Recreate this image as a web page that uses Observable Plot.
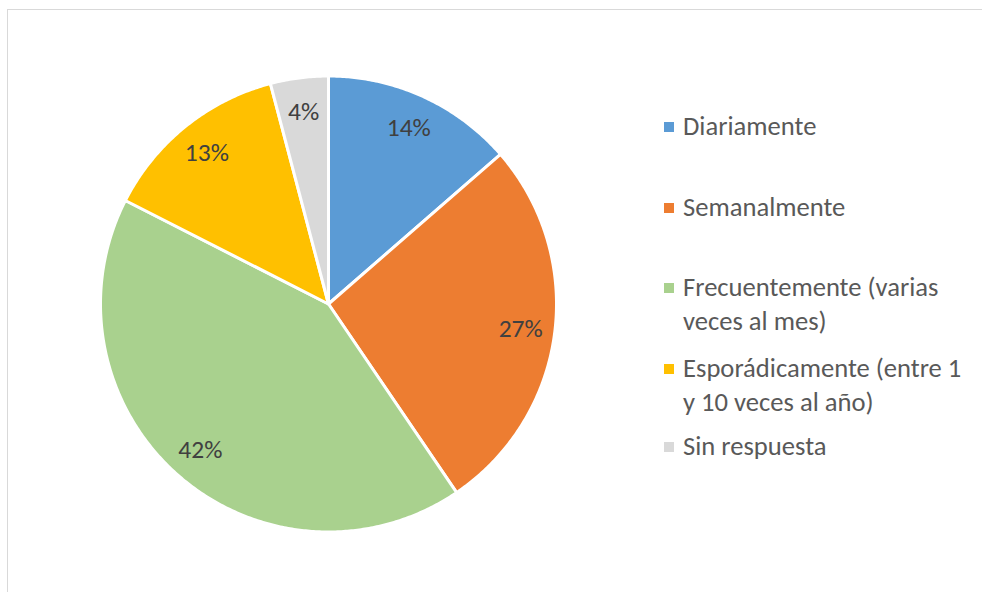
<!DOCTYPE html>
<html>
<head>
<meta charset="utf-8">
<script src="https://cdn.jsdelivr.net/npm/d3@7"></script>
<script src="https://cdn.jsdelivr.net/npm/@observablehq/plot@0.6"></script>
<style>
  html, body { margin: 0; padding: 0; background: #fff; }
  body { width: 982px; height: 592px; position: relative; overflow: hidden;
         font-family: Carlito, Lato, sans-serif; }
  #frame { position: absolute; left: 7px; top: 9px; width: 990px; height: 600px;
           border: 1.5px solid #d9d9d9; box-sizing: border-box; }
  #chart { position: absolute; left: 0; top: 0; }
  #legend { position: absolute; left: 664px; top: 0; color: #595959; font-size: 26.6px; }
  .item { position: absolute; left: 0; width: 318px; line-height: 33.5px; }
  .sw { position: absolute; left: 0; width: 10px; height: 10px; }
  .lab { position: absolute; left: 19px; white-space: nowrap; }
</style>
</head>
<body>
<div id="frame"></div>
<div id="chart"></div>
<div id="legend"></div>
<script>
const categories = ["Diariamente", "Semanalmente", "Frecuentemente (varias veces al mes)", "Esporádicamente (entre 1 y 10 veces al año)", "Sin respuesta"];
const legendLines = [["Diariamente"], ["Semanalmente"], ["Frecuentemente (varias", "veces al mes)"], ["Esporádicamente (entre 1", "y 10 veces al año)"], ["Sin respuesta"]];
const values = [13.6, 26.9, 42.0, 13.4, 4.1];
const percentLabels = ["14%", "27%", "42%", "13%", "4%"];
const colors = ["#5B9BD5", "#ED7D31", "#A9D18E", "#FFC000", "#D9D9D9"];

// layout constants
const cx = 328, cy = 303.5, R = 228;
const labelRadius = 0.85;

const arcs = d3.pie().sort(null).value(d => d.value)(categories.map((name, i) => ({name, value: values[i], label: percentLabels[i]})));

const slicePoints = [];
for (const a of arcs) {
  const name = a.data.name;
  slicePoints.push({name, x: 0, y: 0});
  const n = Math.max(2, Math.ceil((a.endAngle - a.startAngle) / (Math.PI / 360)));
  for (let k = 0; k <= n; k++) {
    const t = a.startAngle + (a.endAngle - a.startAngle) * k / n;
    slicePoints.push({name, x: Math.sin(t), y: Math.cos(t)});
  }
  slicePoints.push({name, x: 0, y: 0});
}
const labels = arcs.map(a => {
  const m = (a.startAngle + a.endAngle) / 2;
  return {name: a.data.name, x: labelRadius * Math.sin(m), y: labelRadius * Math.cos(m), text: a.data.label};
});

const plot = Plot.plot({
  width: 982,
  height: 592,
  margin: 0,
  x: {domain: [-1, 1], range: [cx - R, cx + R], axis: null},
  y: {domain: [-1, 1], range: [cy + R, cy - R], axis: null},
  color: {domain: categories, range: colors},
  style: {background: "transparent", fontFamily: "Carlito, Lato, sans-serif"},
  marks: [
    Plot.line(slicePoints, {x: "x", y: "y", z: "name", fill: "name", stroke: "white", strokeWidth: 3, strokeLinejoin: "round", curve: "linear"}),
    Plot.text(labels, {x: "x", y: "y", text: "text", fill: "#404040", fontSize: 25.5})
  ]
});
document.getElementById("chart").appendChild(plot);

// legend
const rowCenters = [127, 208, 288, 369, 447];
const legend = document.getElementById("legend");
categories.forEach((c, i) => {
  const item = document.createElement("div");
  item.className = "item";
  item.style.top = (rowCenters[i] - 16.75) + "px";
  const sw = document.createElement("div");
  sw.className = "sw";
  sw.style.background = colors[i];
  sw.style.top = "11.75px";
  const lab = document.createElement("div");
  lab.className = "lab";
  lab.innerHTML = legendLines[i].join("<br>");
  item.appendChild(sw);
  item.appendChild(lab);
  legend.appendChild(item);
});
</script>
</body>
</html>
